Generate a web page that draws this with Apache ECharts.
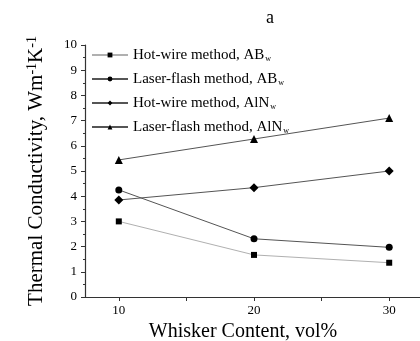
<!DOCTYPE html>
<html>
<head>
<meta charset="utf-8">
<script src="https://cdn.jsdelivr.net/npm/echarts@6/dist/echarts.min.js"></script>
<style>
  html, body { margin: 0; padding: 0; background: #fff; }
  #chart { width: 420px; height: 341px; }
</style>
</head>
<body>
<div id="chart"></div>
<script>
// whisker content, vol%
const content = [10, 20, 30];
const xTicks = [10, 15, 20, 25, 30];
const xLabels = [10, 20, 30];

// thermal conductivity, W m-1 K-1
const hotWireAB = [3.0, 1.67, 1.36];
const laserAB = [4.25, 2.31, 1.97];
const hotWireAlN = [3.85, 4.34, 5.0];
const laserAlN = [5.44, 6.27, 7.1];

const seriesNames = [
  "Hot-wire method, AB_w",
  "Laser-flash method, AB_w",
  "Hot-wire method, AlN_w",
  "Laser-flash method, AlN_w"
];

const font = "Liberation Serif";

function pairs(vals) {
  return content.map((x, i) => [x, vals[i]]);
}

function mkLine(name, vals, symbol, size, lineColor) {
  return {
    name: name,
    type: "line",
    data: pairs(vals),
    symbol: symbol,
    symbolSize: size,
    itemStyle: { color: "#000" },
    lineStyle: { color: lineColor, width: 1 },
    emphasis: { disabled: true },
    animation: false
  };
}

const chart = echarts.init(document.getElementById("chart"));
chart.setOption({
  backgroundColor: "#fff",
  title: {
    text: "a",
    left: 261,
    top: 4,
    textStyle: { fontFamily: font, fontWeight: "normal", fontSize: 18, color: "#000" }
  },
  grid: { left: 85, right: -3, top: 45, bottom: 44, outerBoundsMode: "none" },
  legend: {
    orient: "vertical",
    left: 86,
    top: 42,
    itemWidth: 36,
    itemHeight: 6,
    itemGap: 8,
    data: seriesNames,
    formatter: function (n) {
      const p = n.split("_");
      return "{n|" + p[0] + "}{s|" + p[1] + "}";
    },
    textStyle: {
      fontFamily: font,
      color: "#000",
      rich: {
        n: { fontFamily: font, fontSize: 15, color: "#000", lineHeight: 16 },
        s: { fontFamily: font, fontSize: 8, color: "#000", verticalAlign: "bottom", lineHeight: 8, padding: [8, 0, 0, 1] }
      }
    }
  },
  xAxis: {
    type: "value",
    min: 7.5,
    max: 32.5,
    name: "Whisker Content, vol%",
    nameLocation: "middle",
    nameGap: 22,
    nameTextStyle: { fontFamily: font, fontSize: 20, color: "#000", padding: [0, 22, 0, 0] },
    axisLine: { lineStyle: { color: "#333", width: 1.2 } },
    axisTick: { customValues: xTicks, length: 4, lineStyle: { color: "#333" } },
    axisLabel: { customValues: xLabels, fontFamily: font, fontSize: 13, color: "#000", margin: 7 },
    splitLine: { show: false }
  },
  yAxis: {
    type: "value",
    min: 0,
    max: 10,
    interval: 1,
    name: "{a|Thermal Conductivity, Wm}{s|-1}{a|K}{s|-1}",
    nameLocation: "middle",
    nameGap: 38,
    nameTextStyle: {
      rich: {
        a: { fontFamily: font, fontSize: 21, color: "#000", lineHeight: 22 },
        s: { fontFamily: font, fontSize: 14, color: "#000", verticalAlign: "top", lineHeight: 14, padding: [0, 0, 10, 0] }
      }
    },
    axisLine: { show: true, lineStyle: { color: "#333", width: 1.2 } },
    axisTick: { show: true, length: 4, lineStyle: { color: "#333" } },
    minorTick: { show: true, splitNumber: 2, length: 2, lineStyle: { color: "#333" } },
    axisLabel: { fontFamily: font, fontSize: 13, color: "#000", margin: 8 },
    splitLine: { show: false }
  },
  series: [
    mkLine(seriesNames[0], hotWireAB, "rect", 6, "#b0b0b0"),
    mkLine(seriesNames[1], laserAB, "circle", 7, "#555"),
    mkLine(seriesNames[2], hotWireAlN, "diamond", 9, "#555"),
    mkLine(seriesNames[3], laserAlN, "triangle", 8, "#555")
  ]
});
</script>
</body>
</html>
